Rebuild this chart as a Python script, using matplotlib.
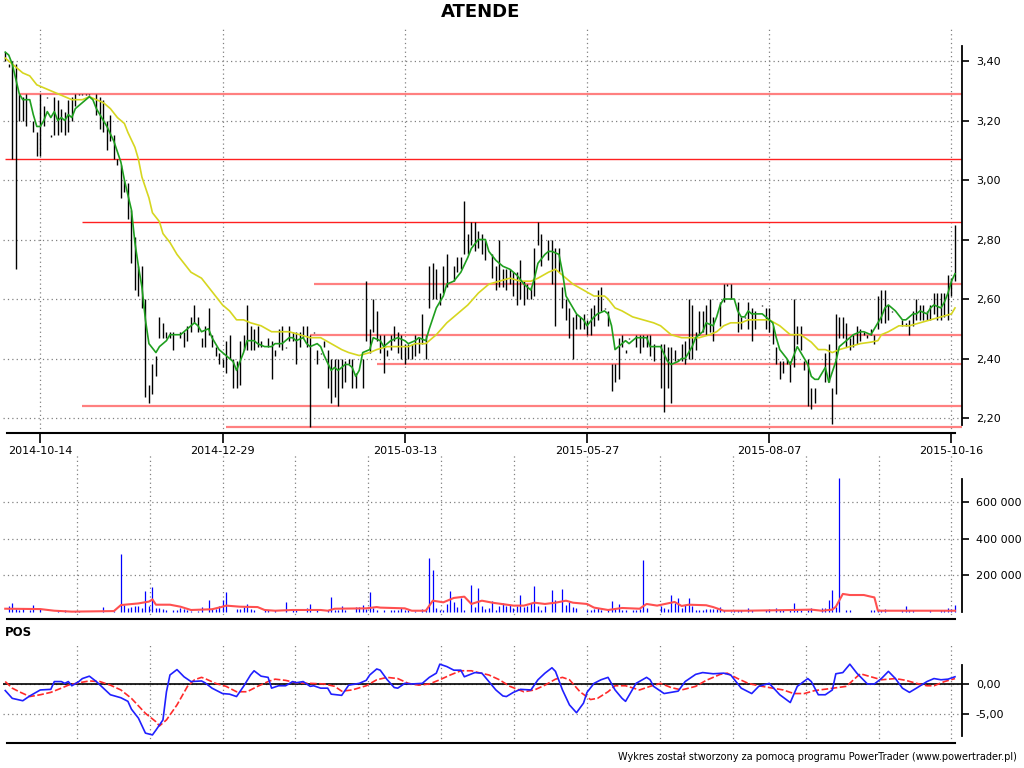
import matplotlib
matplotlib.use("Agg")
import matplotlib.pyplot as plt
import numpy as np

# ---- price bars (trading day index, high, low) ----
bar_day = [0, 1, 2, 3, 4, 5, 6, 8, 9, 10, 11, 12, 13, 14, 15, 16, 17, 18, 19, 20,
           21, 22, 23, 24, 26, 27, 28, 29, 30, 31, 32, 33, 34, 35, 36, 37, 38, 39, 40, 41,
           42, 43, 44, 45, 46, 47, 48, 50, 51, 52, 53, 54, 55, 56, 57, 58, 59, 60, 61, 62,
           63, 64, 65, 66, 67, 68, 69, 70, 71, 72, 73, 75, 76, 77, 78, 79, 80, 81, 82, 83,
           84, 85, 86, 87, 88, 89, 90, 91, 92, 93, 94, 95, 96, 97, 98, 99, 100, 102, 103, 104,
           105, 106, 107, 108, 109, 110, 111, 112, 113, 114, 115, 116, 117, 118, 119, 120, 121, 122, 123, 124,
           125, 126, 128, 129, 130, 131, 132, 133, 134, 135, 136, 137, 139, 140, 141, 142, 143, 144, 145, 146,
           147, 148, 149, 150, 151, 152, 153, 155, 156, 157, 158, 159, 160, 161, 162, 163, 164, 165, 166, 167,
           168, 169, 170, 171, 172, 173, 174, 175, 176, 177, 178, 180, 181, 182, 183, 184, 185, 187, 188, 189,
           190, 191, 192, 193, 194, 195, 196, 197, 198, 199, 200, 201, 202, 204, 205, 206, 207, 209, 210, 211,
           212, 213, 214, 216, 217, 218, 219, 220, 221, 222, 223, 224, 225, 226, 227, 228, 229, 230, 231, 234,
           235, 236, 237, 238, 239, 240, 241, 242, 243, 244, 245, 246, 247, 248, 249, 250, 251, 252, 253, 256,
           257, 258, 259, 260, 261, 262, 263, 264, 265, 266, 267, 268, 269, 270, 271]
bar_high = [3.43, 3.39, 3.40, 3.39, 3.29, 3.28, 3.29, 3.20, 3.16, 3.29, 3.25, 3.28, 3.15, 3.28, 3.27, 3.24, 3.23, 3.27, 3.28, 3.29,
            3.29, 3.29, 3.29, 3.29, 3.29, 3.28, 3.27, 3.20, 3.22, 3.15, 3.07, 3.05, 3.00, 2.99, 2.90, 2.81, 2.71, 2.71, 2.60, 2.31,
            2.38, 2.41, 2.54, 2.52, 2.49, 2.49, 2.49, 2.49, 2.49, 2.51, 2.54, 2.58, 2.54, 2.47, 2.51, 2.57, 2.48, 2.44, 2.42, 2.40,
            2.46, 2.48, 2.40, 2.39, 2.46, 2.48, 2.58, 2.51, 2.50, 2.51, 2.46, 2.47, 2.46, 2.43, 2.50, 2.51, 2.44, 2.51, 2.49, 2.49,
            2.49, 2.51, 2.51, 2.48, 2.49, 2.43, 2.42, 2.46, 2.43, 2.40, 2.40, 2.40, 2.40, 2.39, 2.40, 2.40, 2.35, 2.40, 2.66, 2.50,
            2.60, 2.56, 2.48, 2.48, 2.43, 2.48, 2.51, 2.49, 2.48, 2.45, 2.45, 2.45, 2.48, 2.47, 2.55, 2.48, 2.71, 2.72, 2.70, 2.62,
            2.71, 2.75, 2.71, 2.74, 2.74, 2.93, 2.82, 2.86, 2.86, 2.83, 2.82, 2.80, 2.75, 2.71, 2.80, 2.70, 2.70, 2.70, 2.69, 2.69,
            2.73, 2.66, 2.65, 2.64, 2.77, 2.86, 2.82, 2.80, 2.80, 2.77, 2.77, 2.64, 2.60, 2.57, 2.54, 2.55, 2.54, 2.55, 2.53, 2.57,
            2.58, 2.63, 2.64, 2.57, 2.56, 2.38, 2.38, 2.47, 2.48, 2.43, 2.47, 2.48, 2.48, 2.48, 2.48, 2.48, 2.45, 2.45, 2.45, 2.44,
            2.44, 2.43, 2.40, 2.45, 2.46, 2.60, 2.58, 2.49, 2.56, 2.56, 2.58, 2.60, 2.54, 2.59, 2.65, 2.65, 2.65, 2.59, 2.54, 2.54,
            2.59, 2.57, 2.56, 2.58, 2.57, 2.57, 2.51, 2.44, 2.39, 2.39, 2.40, 2.39, 2.60, 2.51, 2.51, 2.39, 2.40, 2.30, 2.30, 2.42,
            2.45, 2.30, 2.55, 2.54, 2.54, 2.52, 2.47, 2.48, 2.51, 2.50, 2.49, 2.48, 2.50, 2.48, 2.61, 2.63, 2.63, 2.58, 2.56, 2.53,
            2.52, 2.53, 2.56, 2.60, 2.58, 2.58, 2.56, 2.58, 2.62, 2.62, 2.62, 2.62, 2.68, 2.67, 2.85]
bar_low = [3.40, 3.38, 3.07, 2.70, 3.20, 3.20, 3.18, 3.16, 3.08, 3.08, 3.18, 3.28, 3.15, 3.15, 3.15, 3.16, 3.15, 3.16, 3.20, 3.25,
           3.29, 3.29, 3.29, 3.29, 3.22, 3.17, 3.16, 3.10, 3.13, 3.07, 3.05, 2.94, 2.96, 2.87, 2.72, 2.63, 2.61, 2.57, 2.27, 2.25,
           2.28, 2.34, 2.47, 2.47, 2.47, 2.47, 2.43, 2.47, 2.44, 2.46, 2.49, 2.52, 2.49, 2.44, 2.44, 2.48, 2.44, 2.41, 2.38, 2.37,
           2.35, 2.40, 2.30, 2.30, 2.31, 2.43, 2.43, 2.43, 2.43, 2.44, 2.44, 2.44, 2.33, 2.41, 2.44, 2.43, 2.44, 2.46, 2.46, 2.38,
           2.44, 2.47, 2.44, 2.17, 2.49, 2.38, 2.42, 2.44, 2.30, 2.25, 2.27, 2.24, 2.30, 2.32, 2.38, 2.30, 2.30, 2.30, 2.46, 2.42,
           2.49, 2.46, 2.42, 2.35, 2.41, 2.43, 2.46, 2.42, 2.40, 2.38, 2.40, 2.40, 2.41, 2.42, 2.45, 2.40, 2.57, 2.60, 2.60, 2.58,
           2.62, 2.64, 2.66, 2.69, 2.70, 2.75, 2.75, 2.78, 2.76, 2.77, 2.75, 2.73, 2.67, 2.63, 2.64, 2.64, 2.63, 2.65, 2.61, 2.58,
           2.60, 2.58, 2.60, 2.60, 2.61, 2.78, 2.71, 2.73, 2.65, 2.51, 2.69, 2.57, 2.53, 2.47, 2.40, 2.50, 2.50, 2.50, 2.48, 2.48,
           2.51, 2.53, 2.56, 2.57, 2.51, 2.29, 2.32, 2.33, 2.44, 2.42, 2.47, 2.44, 2.42, 2.44, 2.44, 2.41, 2.39, 2.30, 2.22, 2.30,
           2.25, 2.39, 2.39, 2.39, 2.38, 2.40, 2.40, 2.43, 2.48, 2.49, 2.48, 2.49, 2.46, 2.51, 2.59, 2.65, 2.60, 2.49, 2.50, 2.54,
           2.50, 2.46, 2.50, 2.58, 2.50, 2.49, 2.45, 2.38, 2.33, 2.35, 2.38, 2.32, 2.37, 2.45, 2.43, 2.36, 2.24, 2.23, 2.25, 2.32,
           2.32, 2.18, 2.28, 2.47, 2.47, 2.44, 2.43, 2.44, 2.45, 2.46, 2.48, 2.47, 2.48, 2.45, 2.50, 2.52, 2.52, 2.53, 2.56, 2.51,
           2.51, 2.48, 2.51, 2.53, 2.53, 2.53, 2.53, 2.53, 2.55, 2.53, 2.53, 2.54, 2.53, 2.61, 2.66]

# short moving average (green)
green_day = [0, 1, 2, 3, 4, 5, 7, 8, 9, 10, 11, 12, 13, 14, 15, 16, 17, 18, 19, 20, 22, 24, 25, 26, 27, 29, 31, 33, 34,
             36, 37, 38, 39, 40, 41, 43, 44, 46, 47, 48, 50, 51, 53, 54, 55, 56, 58, 59, 61, 62, 64, 65, 66, 67, 68,
             69, 71, 72, 74, 76, 77, 79, 81, 82, 83, 85, 86, 87, 89, 90, 91, 93, 94, 95, 97, 98, 99, 100, 101, 102,
             104, 105, 107, 108, 110, 112, 114, 115, 117, 118, 120, 121, 123, 125, 126, 128, 130, 132, 133, 135, 137,
             138, 140, 142, 144, 145, 146, 148, 149, 150, 151, 152, 154, 155, 156, 158, 159, 160, 162, 163, 164, 165,
             166, 168, 169, 171, 172, 173, 174, 176, 177, 178, 180, 182, 183, 184, 186, 187, 189, 190, 192, 193, 194,
             196, 197, 199, 200, 202, 203, 204, 205, 206, 208, 209, 210, 211, 212, 213, 215, 216, 217, 219, 220, 221,
             223, 224, 226, 227, 229, 230, 231, 232, 233, 234, 235, 237, 238, 240, 241, 242, 244, 245, 247, 248, 250,
             251, 252, 254, 256, 257, 259, 260, 261, 263, 264, 265, 267, 268, 269, 270, 271]
green_val = [3.43, 3.42, 3.39, 3.34, 3.29, 3.27, 3.27, 3.22, 3.18, 3.18, 3.20, 3.23, 3.21, 3.23, 3.20, 3.21, 3.20, 3.22, 3.21, 3.24, 3.26, 3.28, 3.27, 3.24, 3.22, 3.18, 3.13, 3.06, 3.00,
             2.90, 2.79, 2.71, 2.64, 2.53, 2.45, 2.42, 2.44, 2.46, 2.48, 2.48, 2.48, 2.49, 2.51, 2.52, 2.51, 2.49, 2.50, 2.47, 2.43, 2.42, 2.40, 2.39, 2.36, 2.39, 2.42,
             2.46, 2.46, 2.45, 2.44, 2.44, 2.45, 2.45, 2.47, 2.47, 2.46, 2.47, 2.45, 2.44, 2.45, 2.44, 2.41, 2.36, 2.37, 2.36, 2.38, 2.38, 2.37, 2.34, 2.36, 2.42,
             2.43, 2.47, 2.46, 2.44, 2.46, 2.47, 2.46, 2.45, 2.46, 2.47, 2.46, 2.50, 2.57, 2.61, 2.65, 2.66, 2.69, 2.74, 2.77, 2.80, 2.80,
             2.76, 2.73, 2.71, 2.70, 2.69, 2.68, 2.65, 2.64, 2.63, 2.67, 2.72, 2.75, 2.76, 2.76, 2.75, 2.69, 2.61, 2.57, 2.55, 2.54, 2.53,
             2.51, 2.54, 2.55, 2.56, 2.55, 2.51, 2.43, 2.45, 2.46, 2.45, 2.47, 2.47, 2.47, 2.44, 2.44, 2.44, 2.39, 2.38, 2.39, 2.40, 2.40,
             2.44, 2.47, 2.49, 2.52, 2.51, 2.54, 2.58, 2.60, 2.60, 2.60, 2.56, 2.54, 2.54, 2.56, 2.55, 2.55, 2.55, 2.54, 2.52, 2.47, 2.43,
             2.40, 2.38, 2.44, 2.42, 2.38, 2.34, 2.33, 2.33, 2.35, 2.37, 2.32, 2.39, 2.44, 2.46, 2.47, 2.48, 2.49, 2.49, 2.48, 2.50, 2.54,
             2.57, 2.58, 2.56, 2.53, 2.53, 2.55, 2.55, 2.56, 2.55, 2.57, 2.58, 2.57, 2.59, 2.62, 2.66, 2.685]

# long moving average (yellow)
yellow_day = [0, 1, 3, 5, 7, 9, 11, 13, 15, 17, 19, 22, 24, 26, 28, 30, 32, 34, 35, 37, 38, 39, 41, 42, 44, 45, 47, 49,
              51, 53, 56, 58, 60, 62, 64, 66, 68, 70, 73, 76, 78, 81, 84, 87, 90, 93, 96, 98, 101, 104, 106, 109, 112,
              115, 117, 120, 123, 126, 129, 132, 135, 137, 138, 141, 144, 147, 150, 152, 155, 157, 159, 162, 165, 168,
              171, 172, 174, 176, 179, 182, 185, 187, 190, 193, 195, 198, 201, 203, 205, 207, 210, 212, 215, 218, 221,
              224, 227, 230, 232, 234, 236, 238, 241, 244, 247, 249, 250, 252, 255, 258, 261, 264, 267, 270, 271]
yellow_val = [3.41, 3.40, 3.38, 3.36, 3.35, 3.32, 3.31, 3.30, 3.29, 3.28, 3.27, 3.27, 3.28, 3.27, 3.26, 3.24, 3.21, 3.19, 3.16, 3.11, 3.07, 3.01, 2.94, 2.89, 2.86, 2.82, 2.79, 2.75,
              2.72, 2.69, 2.67, 2.64, 2.61, 2.58, 2.56, 2.53, 2.53, 2.52, 2.51, 2.49, 2.49, 2.49, 2.48, 2.47, 2.47, 2.45, 2.43, 2.42, 2.41, 2.42, 2.43, 2.44, 2.44,
              2.44, 2.45, 2.45, 2.48, 2.52, 2.55, 2.58, 2.62, 2.64, 2.65, 2.66, 2.67, 2.66, 2.66, 2.67, 2.69, 2.70, 2.68, 2.65, 2.63, 2.61,
              2.61, 2.60, 2.57, 2.56, 2.54, 2.53, 2.52, 2.51, 2.48, 2.47, 2.47, 2.47, 2.48, 2.49, 2.51, 2.52, 2.52, 2.53, 2.53, 2.53, 2.51,
              2.48, 2.48, 2.455, 2.43, 2.43, 2.42, 2.43, 2.44, 2.45, 2.455, 2.46, 2.48, 2.49, 2.51, 2.51, 2.52, 2.53, 2.54, 2.55, 2.57]

# support / resistance levels
level_price = [3.29, 3.07, 2.86, 2.65, 2.48, 2.38, 2.24, 2.17]
level_from = [4, 0, 22, 88, 87, 106, 22, 63]
level_strong = [False, True, True, False, False, False, False, False]

date_pos = [10, 62, 114, 166, 218, 270]
date_labels = ['2014-10-14', '2014-12-29', '2015-03-13', '2015-05-27', '2015-08-07', '2015-10-16']

# ---- volume (thousands) ----
vol_day = [1, 2, 3, 4, 5, 7, 8, 10, 15, 17, 20, 21, 28, 31, 33, 34, 35, 36, 37, 38, 39, 40, 41, 42, 43, 44, 45, 46,
           48, 49, 50, 51, 52, 53, 55, 56, 58, 59, 60, 61, 62, 63, 66, 67, 68, 69, 70, 71, 74, 75, 77, 80, 82, 83,
           86, 87, 89, 92, 93, 94, 95, 96, 97, 100, 101, 102, 103, 104, 105, 106, 108, 110, 111, 112, 113, 114, 115,
           117, 119, 120, 121, 122, 123, 124, 125, 126, 127, 128, 129, 130, 131, 133, 134, 135, 136, 137, 138, 139,
           140, 141, 142, 143, 144, 145, 146, 147, 148, 149, 150, 151, 152, 153, 154, 156, 157, 159, 160, 161, 162,
           163, 166, 167, 168, 169, 170, 172, 173, 174, 175, 176, 177, 179, 180, 181, 182, 183, 187, 188, 189, 190,
           191, 192, 193, 194, 195, 196, 197, 198, 199, 200, 201, 202, 203, 204, 205, 207, 208, 209, 210, 212, 213,
           217, 218, 220, 221, 222, 224, 225, 226, 227, 229, 230, 233, 234, 235, 236, 237, 238, 240, 241, 247, 248,
           249, 250, 251, 256, 257, 258, 259, 264, 267, 268, 269, 270, 271]
vol_k = [34, 51, 15, 10, 24, 10, 38, 14, 10, 10, 8, 8, 27, 5, 318, 38, 20, 25, 33, 34, 22, 117, 34, 139, 24, 20, 15, 10,
         10, 10, 20, 15, 10, 5, 5, 25, 66, 15, 15, 34, 66, 110, 15, 15, 25, 46, 15, 10, 10, 10, 10, 57, 10, 10,
         24, 46, 10, 12, 84, 10, 12, 33, 10, 25, 25, 38, 15, 110, 24, 10, 10, 10, 10, 10, 24, 10, 10,
         5, 15, 15, 298, 230, 24, 10, 10, 46, 115, 57, 27, 75, 10, 148, 27, 131, 35, 15, 24, 62,
         10, 33, 48, 33, 38, 24, 34, 93, 27, 34, 48, 142, 34, 11, 34, 120, 64, 126, 38, 55, 27,
         24, 11, 11, 16, 24, 11, 16, 62, 16, 46, 11, 11, 11, 11, 16, 285, 24, 35, 24, 16, 93,
         47, 79, 24, 38, 79, 35, 11, 11, 11, 16, 16, 16, 16, 27, 11, 7, 11, 11, 11, 24, 11,
         11, 16, 24, 11, 11, 11, 48, 11, 11, 11, 24, 24, 24, 66, 120, 27, 733, 11, 11, 11, 11,
         11, 11, 16, 11, 35, 11, 11, 11, 11, 11, 24, 16, 38]

volma_day = [0, 10, 14, 19, 31, 33, 38, 41, 42, 43, 47, 50, 53, 59, 62, 63, 67, 72, 74, 77, 82, 90, 92, 94, 103, 106,
             107, 114, 116, 120, 122, 125, 128, 131, 133, 136, 139, 145, 148, 151, 154, 157, 160, 162, 166, 168, 172,
             176, 181, 183, 186, 191, 193, 195, 200, 202, 205, 211, 225, 230, 233, 236, 237, 239, 241, 245, 247, 248,
             249, 271]
volma_k = [18, 16, 7, 2, 5, 38, 47, 57, 69, 40, 40, 29, 11, 15, 29, 35, 29, 27, 11, 7, 11, 11, 7, 18, 20, 27,
           24, 20, 7, 7, 62, 53, 77, 84, 44, 62, 51, 35, 35, 51, 44, 51, 62, 51, 44, 24, 11,
           22, 18, 44, 35, 55, 33, 40, 37, 27, 7, 7, 11, 13, 7, 13, 29, 99, 93, 93, 84, 80,
           7, 7]

# ---- POS oscillator ----
pos_day = [0, 2, 5, 7, 10, 13, 14, 16, 17, 18, 19, 21, 22, 24, 26, 28, 30, 33, 35, 36, 38, 40, 42, 43, 45, 46, 47, 49,
           51, 53, 56, 57, 59, 62, 64, 66, 68, 70, 71, 73, 75, 76, 78, 80, 82, 83, 85, 87, 88, 90, 92, 93, 96, 98,
           101, 103, 104, 106, 107, 109, 111, 112, 114, 116, 119, 121, 123, 124, 126, 128, 130, 131, 134, 136, 138,
           140, 142, 143, 145, 147, 150, 152, 154, 156, 157, 159, 161, 163, 165, 166, 168, 170, 172, 174, 176, 177,
           180, 183, 184, 185, 188, 192, 194, 197, 199, 202, 205, 207, 210, 213, 215, 218, 221, 224, 226, 229, 230,
           232, 234, 236, 237, 239, 241, 243, 244, 246, 248, 250, 252, 254, 256, 258, 260, 263, 265, 267, 269, 271]
pos_val = [-1.1, -2.4, -2.8, -2.0, -1.0, -0.9, 0.4, 0.4, 0.1, 0.4, -0.3, 0.4, 0.9, 1.3, 0.4, -0.7, -1.8, -2.3, -2.9, -4.2, -5.7, -8.2, -8.5, -7.7, -6.0, -1.3, 1.5, 2.4,
           1.2, 0.4, 0.5, 0.2, -0.7, -1.6, -1.7, -2.1, -0.4, 1.5, 2.2, 1.3, 1.1, -0.7, -0.3, -0.3, 0.4, 0.2, 0.4, -0.4, -0.3, -0.7, -0.7, -1.7, -1.9, -0.2,
           0.1, 0.6, 1.5, 2.5, 2.3, 0.7, -0.6, -0.7, 0.1, 0.0, 0.1, 1.1, 1.8, 3.3, 2.9, 2.3, 2.3, 1.2, 1.9, 1.8, 0.4,
           -1.0, -2.0, -2.1, -1.4, -0.9, -1.0, 0.7, 1.8, 2.7, 2.1, -1.0, -3.5, -4.8, -3.2, -1.4, 0.1, 0.7, 1.1, -1.0, -2.4, -2.9,
           0.1, 1.1, 0.7, -0.4, -1.6, -1.2, 0.4, 1.6, 1.9, 1.7, 1.8, 1.5, -0.7, -1.6, -0.4, 0.1, -1.8, -3.1, -0.4, 0.9, 0.4,
           -1.8, -1.8, -1.0, 1.7, 1.9, 3.3, 1.8, 1.2, 0.0, 0.0, 0.9, 2.1, 0.9, -0.7, -1.4, -0.7, 0.4, 0.9, 0.7, 0.8, 1.2]

posma_day = [0, 2, 4, 7, 10, 13, 16, 18, 21, 24, 27, 30, 33, 36, 40, 43, 44, 46, 49, 52, 54, 56, 57, 60, 63, 66, 69,
             72, 75, 77, 80, 83, 87, 91, 94, 96, 99, 103, 106, 109, 112, 115, 118, 121, 124, 127, 130, 133, 135,
             138, 141, 144, 148, 151, 154, 157, 159, 161, 164, 167, 169, 172, 174, 177, 181, 184, 187, 190, 193, 197,
             200, 204, 206, 209, 212, 215, 219, 222, 225, 228, 231, 235, 240, 243, 244, 247, 250, 254, 257, 260, 263,
             265, 268, 271]
posma_val = [0.4, -0.7, -1.3, -2.1, -1.8, -1.4, -0.7, -0.2, 0.2, 0.5, 0.4, -0.2, -1.0, -2.4, -4.9, -6.3, -7.0, -6.0, -3.5, -0.4, 0.7, 1.1, 0.9, 0.1, -0.4, -1.3, -1.3,
             -0.4, 0.4, 0.8, 0.6, 0.2, 0.1, 0.0, -0.4, -1.2, -1.0, -0.3, 0.7, 1.1, 0.9, 0.1, -0.2, 0.0, 0.7, 1.5, 2.2, 2.2, 1.9,
             1.5, 0.7, -0.4, -1.3, -1.0, -0.2, 0.8, 1.1, 0.7, -1.3, -2.6, -2.4, -1.3, -0.3, -0.3, -1.0, -0.4, 0.1, -0.6, -1.0, -0.4,
             0.6, 1.6, 1.8, 0.9, 0.1, -0.3, -0.7, -1.0, -1.6, -1.6, -1.1, -0.8, -0.4, 1.2, 1.7, 1.2, 0.7, 0.9, 0.6, 0.1, -0.3,
             -0.3, 0.4, 0.9]

# ---------------------------------------------------------------
W, H = 1024, 768
fig = plt.figure(figsize=(W / 100, H / 100), dpi=100)
fig.patch.set_facecolor('white')

def panel(x0, y0, x1, y1):
    return fig.add_axes([x0 / W, 1 - y1 / H, (x1 - x0) / W, (y1 - y0) / H])

XL = (-0.64, 273.0)
dot = (0, (1, 2.5))
gridkw = dict(color='#808080', linestyle=dot, linewidth=0.9)

def base_style(ax):
    for s in ['top', 'left']:
        ax.spines[s].set_visible(False)
    ax.spines['right'].set_linewidth(1.3)
    ax.spines['bottom'].set_linewidth(1.5)
    ax.spines['bottom'].set_bounds(0.5, 271)
    ax.set_xlim(*XL)
    ax.yaxis.tick_right()
    ax.tick_params(axis='y', direction='out', length=5, width=1.2, labelsize=8, pad=5)
    ax.set_axisbelow(True)

# ---- price panel ----
ax1 = panel(3, 28, 962, 433)
base_style(ax1)
ax1.set_ylim(2.1496, 3.511)
ax1.spines['right'].set_bounds(2.177, 3.45)
pticks = [2.2, 2.4, 2.6, 2.8, 3.0, 3.2, 3.4]
ax1.set_yticks(pticks)
ax1.set_yticklabels([f"{v:.2f}".replace('.', ',') for v in pticks])
ax1.set_xticks(date_pos)
ax1.set_xticklabels(date_labels)
ax1.tick_params(axis='x', direction='out', length=7, width=1.2, labelsize=8, pad=2)
ax1.grid(True, **gridkw)

for lv, st, strong in zip(level_price, level_from, level_strong):
    if strong:
        ax1.hlines(lv, st, XL[1], color='#ff2020', lw=1.0, zorder=2)
    else:
        ax1.hlines(lv, st, XL[1], color='#ff8080', lw=1.6, zorder=2)

hi = np.array(bar_high)
lo = np.minimum(np.array(bar_low), hi - 0.005)
ax1.vlines(bar_day, lo, hi, color='black', lw=1.0, zorder=3)
ax1.plot(yellow_day, yellow_val, color='#d6d620', lw=1.2, zorder=4)
ax1.plot(green_day, green_val, color='#1f9f1f', lw=1.2, zorder=5)

# ---- volume panel ----
ax2 = panel(3, 455, 962, 619.3)
base_style(ax2)
ax2.set_ylim(-40000, 860000)
ax2.spines['right'].set_bounds(0, 730000)
vticks = [200000, 400000, 600000]
ax2.set_yticks(vticks)
ax2.set_yticklabels([f"{v:,}".replace(',', ' ') for v in vticks])
vgrid = np.linspace(20.4, 270, 13)
ax2.set_xticks(vgrid)
ax2.tick_params(axis='x', length=0, labelbottom=False)
ax2.grid(True, **gridkw)
ax2.vlines(vol_day, 0, [v * 1000 for v in vol_k], color='#0000ff', lw=0.9, zorder=3)
ax2.plot(volma_day, [v * 1000 for v in volma_k], color='#ff5050', lw=1.5, zorder=4)

# ---- POS panel ----
ax3 = panel(3, 645, 962, 743.3)
base_style(ax3)
ax3.set_ylim(-9.9, 6.5)
ax3.spines['right'].set_bounds(-8.67, 3.17)
ax3.set_yticks([0, -5])
ax3.set_yticklabels(['0,00', '-5,00'])
ax3.set_xticks(vgrid)
ax3.tick_params(axis='x', length=0, labelbottom=False)
ax3.grid(True, **gridkw)
ax3.axhline(0, color='black', lw=1.2, zorder=3)
ax3.plot(posma_day, posma_val, color='#ff2a2a', lw=1.2, dashes=(4, 1.5), zorder=4)
ax3.plot(pos_day, pos_val, color='#2020ff', lw=1.2, zorder=5)

fig.text(5 / W, 1 - 632 / H, 'POS', fontsize=8.5, fontweight='bold', va='center', ha='left')
fig.text(481 / W, 1 - 12 / H, 'ATENDE', fontsize=13, fontweight='bold', va='center', ha='center')
fig.text(1017 / W, 1 - 757 / H, 'Wykres został stworzony za pomocą programu PowerTrader (www.powertrader.pl)',
         fontsize=7, va='center', ha='right')

fig.savefig('out.png', dpi=100)
